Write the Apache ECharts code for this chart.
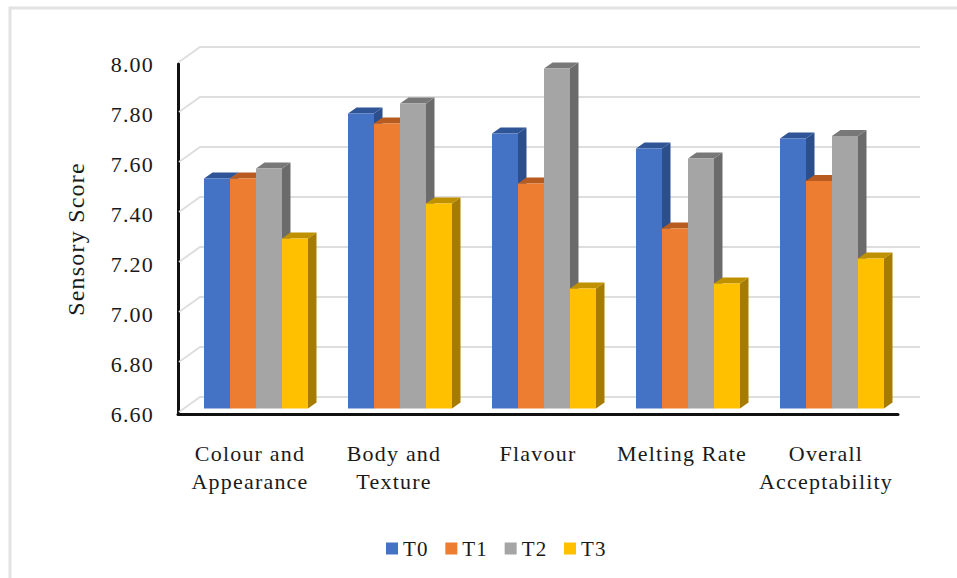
<!DOCTYPE html>
<html>
<head>
<meta charset="utf-8">
<style>
  html, body { margin: 0; padding: 0; background: #fff; }
  #chart { width: 957px; height: 578px; }
  /* the scanned labels are set wide */
  #chart text { letter-spacing: 1.2px; }
</style>
<script src="https://cdn.jsdelivr.net/npm/echarts@6/dist/echarts.min.js"></script>
</head>
<body>
<div id="chart"></div>
<script>
  const categories = ["Colour and\nAppearance", "Body and\nTexture", "Flavour", "Melting Rate", "Overall\nAcceptability"];
  const seriesNames = ["T0", "T1", "T2", "T3"];
  const t0 = [7.52, 7.78, 7.70, 7.64, 7.68];
  const t1 = [7.52, 7.74, 7.50, 7.32, 7.51];
  const t2 = [7.56, 7.82, 7.96, 7.60, 7.69];
  const t3 = [7.28, 7.42, 7.08, 7.10, 7.20];
  const yTicks = [6.6, 6.8, 7.0, 7.2, 7.4, 7.6, 7.8, 8.0];

  const values = [t0, t1, t2, t3];
  // front, side and top face of each bar
  const faces = [
    ["#4472C4", "#2C4F8C", "#2F5597"],
    ["#ED7D31", "#A9571F", "#B85B20"],
    ["#A5A5A5", "#6B6B6B", "#787878"],
    ["#FFC000", "#A67C00", "#BF9000"],
  ];
  const font = "Liberation Serif";
  const yMin = 6.6;
  // fake 3d: how far the back wall sits from the axis plane, and the bars from it
  const wallDx = 22, wallDy = -17;
  const barDx = 6, barDy = -5.5;
  const depthDx = 8.5, depthDy = -6;

  function renderWall(params, api) {
    const rect = params.coordSys;
    const y = api.coord([0, api.value(1)])[1];
    const x0 = rect.x + 1, x1 = rect.x + wallDx, x2 = rect.x + rect.width + wallDx;
    return {
      type: "polyline",
      shape: { points: [[x0, y - 2], [x1, y + wallDy], [x2, y + wallDy]] },
      style: { fill: null, stroke: "#dedede", lineWidth: 2 },
      silent: true,
    };
  }

  function renderBar(seriesIndex) {
    return function (params, api) {
      const i = api.value(0);
      const top = api.coord([i, api.value(1)]);
      const base = api.coord([i, yMin]);
      const w = api.size([1, 0])[0] / 5.54;
      const x0 = top[0] + barDx - 2 * w + seriesIndex * w;
      const x1 = x0 + w;
      const yt = top[1] + barDy;
      const yb = base[1] + barDy;
      const c = faces[seriesIndex];
      return {
        type: "group",
        children: [
          {
            type: "polygon",
            shape: { points: [[x1, yt], [x1 + depthDx, yt + depthDy], [x1 + depthDx, yb + depthDy], [x1, yb]] },
            style: { fill: c[1] },
          },
          {
            type: "polygon",
            shape: { points: [[x0, yt], [x0 + depthDx, yt + depthDy], [x1 + depthDx, yt + depthDy], [x1, yt]] },
            style: { fill: c[2] },
          },
          {
            type: "rect",
            shape: { x: x0, y: yt, width: w, height: yb - yt },
            style: { fill: c[0] },
          },
        ],
      };
    };
  }

  const chart = echarts.init(document.getElementById("chart"), null, { renderer: "svg" });
  const option = {
    backgroundColor: "#fff",
    animation: false,
    textStyle: { fontFamily: font },
    grid: { left: 178, top: 64, width: 720, height: 350 },
    graphic: [
      {
        type: "polyline",
        silent: true,
        shape: { points: [[10, 578], [10, 8], [957, 8]] },
        style: { fill: null, stroke: "#e2e2e2", lineWidth: 3 },
      },
    ],
    legend: {
      data: seriesNames,
      left: 381,
      top: 533,
      icon: "rect",
      itemWidth: 12,
      itemHeight: 12,
      itemGap: 19,
      textStyle: { fontFamily: font, fontSize: 21, color: "#1a1a1a" },
    },
    xAxis: {
      type: "category",
      data: categories,
      axisLine: { lineStyle: { color: "#111", width: 3 } },
      axisTick: { show: false },
      axisLabel: {
        interval: 0,
        margin: 25,
        fontFamily: font,
        fontSize: 22,
        lineHeight: 28,
        color: "#1a1a1a",
      },
    },
    yAxis: {
      type: "value",
      min: 6.6,
      max: 8,
      interval: 0.2,
      name: "Sensory Score",
      nameLocation: "middle",
      nameGap: 90,
      nameTextStyle: { fontFamily: font, fontSize: 24, color: "#1a1a1a" },
      axisLine: { show: true, lineStyle: { color: "#111", width: 3 } },
      axisTick: { show: false },
      splitLine: { show: false },
      axisLabel: {
        margin: 24,
        padding: [18, 0, 0, 0],
        fontFamily: font,
        fontSize: 22,
        color: "#1a1a1a",
        formatter: (v) => v.toFixed(2),
      },
    },
    series: [
      {
        type: "custom",
        name: "wall",
        silent: true,
        z: 1,
        renderItem: renderWall,
        encode: { x: 0, y: 1 },
        data: yTicks.map((v) => [0, v]),
      },
    ].concat(
      seriesNames.map((name, k) => ({
        type: "custom",
        name: name,
        z: 2,
        itemStyle: { color: faces[k][0] },
        renderItem: renderBar(k),
        encode: { x: 0, y: 1 },
        data: values[k].map((v, i) => [i, v]),
      }))
    ),
  };
  chart.setOption(option);
</script>
</body>
</html>
